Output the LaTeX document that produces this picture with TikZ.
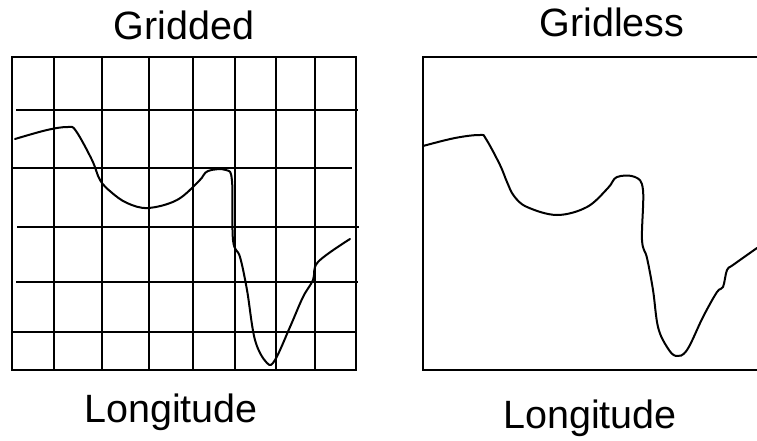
\documentclass[tikz,border=0pt]{standalone}
\usepackage{fontspec}
\setmainfont{Liberation Sans}
\usetikzlibrary{positioning}
\definecolor{ink}{HTML}{000000}
\newcommand{\boxtop}{57}
\newcommand{\boxbot}{370}
\tikzset{
  label text/.style={font=\fontsize{39.5}{44}\selectfont, text=ink, inner sep=0pt, anchor=base},
  gridline/.style={draw=ink, line width=2pt},
  frame/.style={draw=ink, line width=2.2pt},
  coast/.style={draw=ink, line width=2pt, line cap=round, line join=round}
}
\begin{document}
\begin{tikzpicture}[x=1pt, y=-1pt]
\useasboundingbox (0,0) rectangle (757,441);

% ---------------- titles ----------------
\node[label text] (gridtitle) at (184,40) {Gridded};
\node[label text] (freetitle) at (612,37) {Gridless};
\node[label text] (gridlon) at (171,422) {Longitude};
\node[label text] (freelon) at (590,428) {Longitude};

% ---------------- gridded panel ----------------
\draw[frame] (12,\boxtop) rectangle (356,\boxbot);
\foreach \x in {54,102,149,193,235,276,315}
  \draw[gridline] (\x,\boxtop) -- (\x,\boxbot);
\foreach \y/\xa/\xb in {110/16/358, 168/12/352, 227/17/359, 282/16/358, 332/12/355}
  \draw[gridline] (\xa,\y) -- (\xb,\y);
\draw[coast] plot[smooth, tension=0.6] coordinates {
  (15,139) (47,130) (68,127) (76,131) (92,160) (100,180) (111,192) (127,203) (148,208)
  (177,200) (199,181) (208,171) (226,170) (232,181) (233,240) (240,257) (247,290)
  (255,340) (267,363) (275,360) (290,327) (303,297) (313,280) (318,262) (350,239)};

% ---------------- gridless panel ----------------
\draw[frame] (757,\boxtop) -- (423,\boxtop) -- (423,\boxbot) -- (757,\boxbot);
\draw[coast] plot[smooth, tension=0.6] coordinates {
  (423,146) (455,138) (480,135) (486,139) (500,165) (507,182) (514,196) (527,207) (557,215)
  (587,207) (608,188) (617,177) (635,177) (643,190) (642,240) (647,258) (653,290)
  (658,327) (667,347) (676,356) (687,350) (703,317) (717,292) (723,287)
  (727,270) (733,265) (757,248)};

\end{tikzpicture}
\end{document}
